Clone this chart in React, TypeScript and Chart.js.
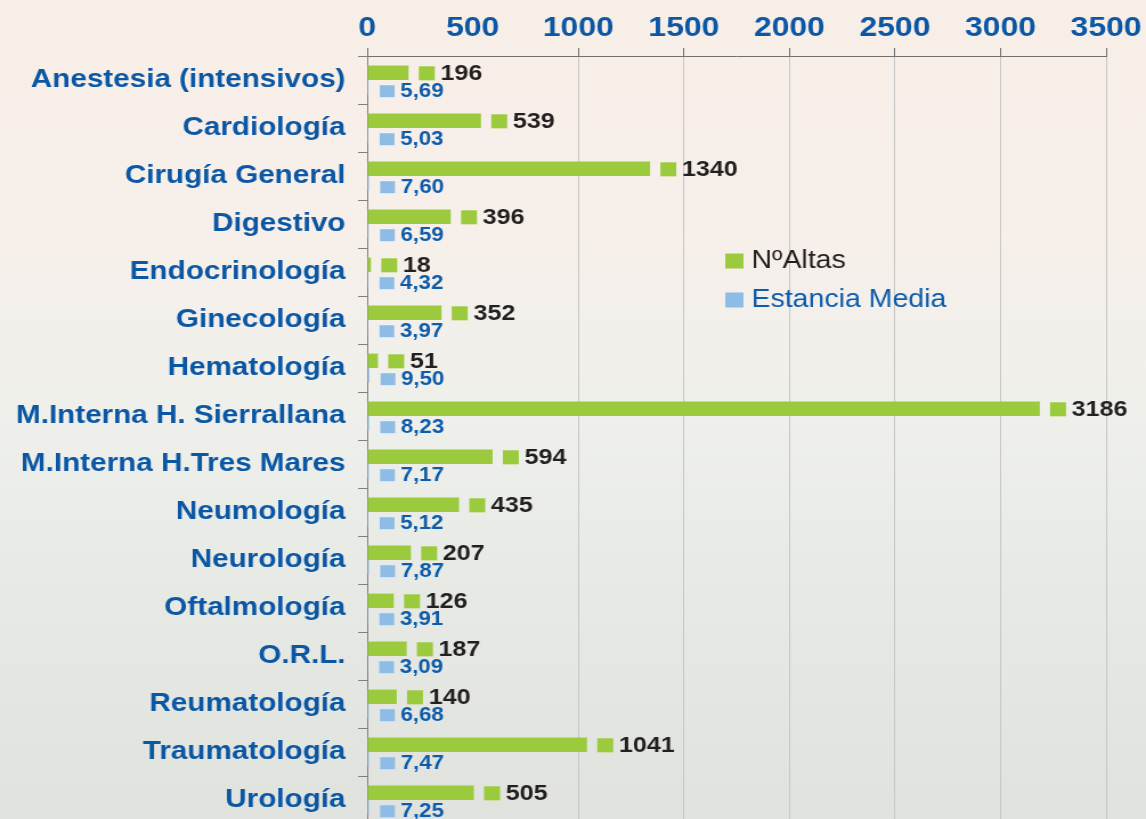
import React, { useEffect, useRef } from "react";
import { Chart, registerables } from "chart.js";

Chart.register(...registerables);

// ---- data ----
const categories = [
  "Anestesia (intensivos)",
  "Cardiología",
  "Cirugía General",
  "Digestivo",
  "Endocrinología",
  "Ginecología",
  "Hematología",
  "M.Interna H. Sierrallana",
  "M.Interna H.Tres Mares",
  "Neumología",
  "Neurología",
  "Oftalmología",
  "O.R.L.",
  "Reumatología",
  "Traumatología",
  "Urología",
];
const altas = [196, 539, 1340, 396, 18, 352, 51, 3186, 594, 435, 207, 126, 187, 140, 1041, 505];
const estanciaMedia = [5.69, 5.03, 7.6, 6.59, 4.32, 3.97, 9.5, 8.23, 7.17, 5.12, 7.87, 3.91, 3.09, 6.68, 7.47, 7.25];
const seriesNames = ["NºAltas", "Estancia Media"];
const xMin = 0;
const xMax = 3500;
const xStep = 500;

// ---- styles ----
const FONT = "'Liberation Sans', Arial, Helvetica, sans-serif";
const GREEN = "#9bcb3c";
const LIGHTBLUE = "#8dbde6";
const LABEL_BLUE = "#0b57a4";
const VALUE_BLUE = "#0d5cab";
const DARK = "#231f20";
const CW = 1005; // canvas width before horizontal stretch
const CH = 826;
const STRETCH = 1146 / CW;

const labelStyles = [
  { gap: 9, kw: 14, kh: 14, tgap: 5, dy: 0.5, font: `bold 22px ${FONT}`, color: DARK, fmt: (v: number) => String(v) },
  { gap: 10, kw: 13, kh: 12, tgap: 5, dy: 4, font: `bold 19.5px ${FONT}`, color: VALUE_BLUE, fmt: (v: number) => v.toFixed(2).replace(".", ",") },
];

const valueLabelsPlugin = {
  id: "valueLabels",
  afterDatasetsDraw(chart: any) {
    const ctx = chart.ctx;
    ctx.save();
    chart.data.datasets.forEach((ds: any, di: number) => {
      const meta = chart.getDatasetMeta(di);
      const st = labelStyles[di];
      meta.data.forEach((el: any, i: number) => {
        const v = ds.data[i] as number;
        const x0 = el.x + st.gap;
        const y = el.y + st.dy;
        ctx.fillStyle = ds.backgroundColor;
        ctx.fillRect(x0, y - st.kh / 2, st.kw, st.kh);
        ctx.font = st.font;
        ctx.fillStyle = st.color;
        ctx.textAlign = "left";
        ctx.textBaseline = "middle";
        ctx.fillText(st.fmt(v), x0 + st.kw + st.tgap, y + 0.5);
      });
    });
    ctx.restore();
  },
};

const legendPlugin = {
  id: "customLegend",
  afterDraw(chart: any) {
    const ctx = chart.ctx;
    const area = chart.chartArea;
    const left = area.left + 314;
    const rows = [261, 300];
    const colors = [DARK, VALUE_BLUE];
    ctx.save();
    chart.data.datasets.forEach((ds: any, di: number) => {
      const y = rows[di];
      ctx.fillStyle = ds.backgroundColor;
      ctx.fillRect(left, y - 7.5, 16, 15);
      ctx.font = `25px ${FONT}`;
      ctx.fillStyle = colors[di];
      ctx.textAlign = "left";
      ctx.textBaseline = "middle";
      ctx.fillText(ds.label, left + 23, y);
    });
    ctx.restore();
  },
};

export default function App() {
  const ref = useRef<HTMLCanvasElement | null>(null);

  useEffect(() => {
    document.body.style.margin = "0";
    document.body.style.overflow = "hidden";
    if (!ref.current) return;
    const chart = new Chart(ref.current, {
      type: "bar",
      data: {
        labels: categories,
        datasets: [
          { label: seriesNames[0], data: altas, backgroundColor: GREEN, borderWidth: 0, categoryPercentage: 0.6, barPercentage: 1 },
          { label: seriesNames[1], data: estanciaMedia, backgroundColor: LIGHTBLUE, borderWidth: 0, categoryPercentage: 0.6, barPercentage: 1 },
        ],
      },
      options: {
        indexAxis: "y",
        animation: false,
        responsive: false,
        devicePixelRatio: 1,
        layout: { padding: { left: 0, right: 35, top: 0, bottom: 2 } },
        plugins: { legend: { display: false }, tooltip: { enabled: false } },
        scales: {
          x: {
            position: "top",
            min: xMin,
            max: xMax,
            ticks: {
              stepSize: xStep,
              color: LABEL_BLUE,
              font: { family: FONT, size: 28, weight: "bold" },
              padding: 3,
              maxRotation: 0,
              autoSkip: false,
              callback: (v: any) => String(v),
            },
            grid: {
              color: (c: any) => (c.tick && c.tick.value === 500 ? "rgba(0,0,0,0)" : "#c6c6c6"),
              tickColor: (c: any) => (c.tick && c.tick.value === 500 ? "rgba(0,0,0,0)" : "#6f6f6f"),
              tickLength: 8,
              lineWidth: 1,
            },
            border: { color: "#6f6f6f", width: 1 },
            afterFit: (s: any) => {
              s.height = 56;
            },
          },
          y: {
            ticks: {
              color: LABEL_BLUE,
              font: { family: FONT, size: 26, weight: "bold" },
              padding: 11,
              autoSkip: false,
            },
            grid: { drawOnChartArea: false, tickLength: 8, color: "#7f7f7f", offset: true },
            border: { color: "#7f7f7f", width: 1 },
            afterFit: (s: any) => {
              s.width = 322;
              s.paddingTop = 0;
              s.paddingBottom = 0;
            },
          },
        },
      },
      plugins: [valueLabelsPlugin, legendPlugin],
    } as any);
    return () => chart.destroy();
  }, []);

  return (
    <div
      style={{
        width: 1146,
        height: 819,
        overflow: "hidden",
        position: "relative",
        background:
          "linear-gradient(180deg, #f8eee8 0%, #f6efea 30%, #eff0eb 50%, #e6e9e4 72%, #dfe2dd 100%)",
      }}
    >
      <div
        style={{
          position: "absolute",
          left: 0,
          top: 0,
          width: CW,
          height: CH,
          transform: `scaleX(${STRETCH})`,
          transformOrigin: "0 0",
        }}
      >
        <canvas ref={ref} width={CW} height={CH} />
      </div>
    </div>
  );
}
